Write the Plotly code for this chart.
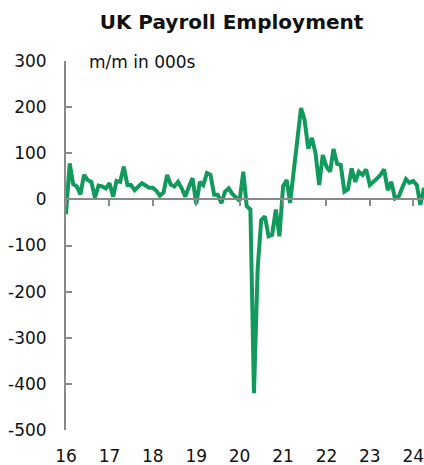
import plotly.graph_objects as go
import pandas as pd

# Monthly payroll employment change, thousands (Jan 2016 - Apr 2024)
start_month = "2016-01-01"
values = [
    -32, 78, 33, 28, 11, 53, 42, 38, 4, 30, 28, 24,        # 2016
    35, 6, 40, 38, 71, 31, 31, 20, 28, 35, 30, 25,         # 2017
    25, 18, 8, 15, 53, 32, 28, 38, 24, 6, 28, 46,          # 2018
    -10, 38, 31, 57, 53, 10, 10, -8, 17, 24, 12, 5,        # 2019
    -3, 60, -15, -22, -420, -150, -45, -37, -80, -77, -22, -80,  # 2020
    28, 42, -8, 62, 130, 198, 172, 110, 133, 100, 31, 96,  # 2021
    71, 60, 109, 77, 75, 17, 22, 67, 38, 60, 53, 65,       # 2022
    31, 40, 45, 53, 65, 20, 38, 2, 6, 25, 44, 36,          # 2023
    40, 31, -12, 25,                                       # 2024
]
dates = pd.date_range(start_month, periods=len(values), freq="MS")

year_ticks = [f"{y}-01-01" for y in range(2016, 2025)]
year_labels = ["16", "17", "18", "19", "20", "21", "22", "23", "24"]
y_ticks = [300, 200, 100, 0, -100, -200, -300, -400, -500]
y_labels = ["300", "200", "100", "0", "-100", "-200", "-300", "-400", "-500"]

title_text = "UK Payroll Employment"
unit_text = "m/m in 000s"

FONT = "DejaVu Sans"
GREEN = "#12995c"
GREY = "#8a8a8a"

fig = go.Figure()
fig.add_trace(go.Scatter(x=dates, y=values, mode="lines",
                         line=dict(color=GREEN, width=4),
                         showlegend=False, hoverinfo="skip"))
# invisible trace on the overlay axis so it is drawn
fig.add_trace(go.Scatter(x=dates, y=values, mode="lines", xaxis="x2",
                         line=dict(color="rgba(0,0,0,0)", width=0),
                         showlegend=False, hoverinfo="skip"))

xr = ["2016-01-01", "2024-04-01"]
fig.update_layout(
    width=424, height=465,
    margin=dict(l=66, r=0, t=61, b=35, autoexpand=False),
    paper_bgcolor="white", plot_bgcolor="white",
    font=dict(family=FONT, size=17, color="#111111"),
    title=dict(text=f"<b>{title_text}</b>", x=231.5 / 424, xref="container",
               xanchor="center", y=1 - 22 / 465, yref="container",
               yanchor="middle", font=dict(family=FONT, size=20, color="#111111")),
    xaxis=dict(range=xr, tickvals=year_ticks, ticktext=year_labels,
               showline=False, showgrid=False, zeroline=False, ticks="",
               automargin=False, ticklabelstandoff=14, ticklabeloverflow="allow",
               tickfont=dict(size=17)),
    xaxis2=dict(range=xr, overlaying="x", anchor="free", position=500 / 800,
                side="bottom", tickvals=year_ticks, showticklabels=False,
                showline=True, linecolor=GREY, linewidth=2,
                ticks="outside", ticklen=6, tickwidth=2, tickcolor=GREY,
                automargin=False, showgrid=False, zeroline=False),
    yaxis=dict(range=[-500, 300], tickvals=y_ticks, ticktext=y_labels,
               showline=True, linecolor=GREY, linewidth=2,
               ticks="inside", ticklen=6, tickwidth=2, tickcolor=GREY,
               automargin=False,
               showgrid=False, zeroline=False, ticklabelstandoff=14,
               tickfont=dict(size=17)),
    annotations=[dict(text=unit_text, xref="paper", yref="paper",
                      x=21 / 358, y=(430 - 62) / 369, xanchor="left",
                      yanchor="middle", showarrow=False,
                      font=dict(family=FONT, size=17, color="#111111"))],
)

fig.write_html("out.html", config={"displayModeBar": False},
               post_script="document.body.style.margin='0';document.body.style.overflow='hidden';")
